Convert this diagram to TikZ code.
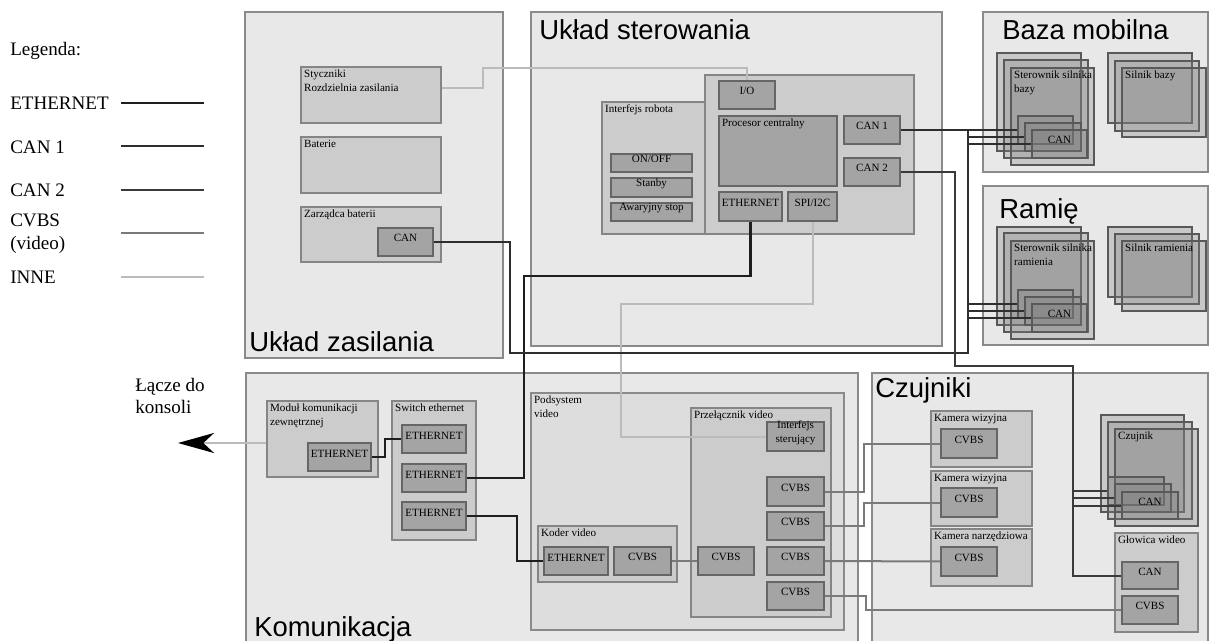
\documentclass[tikz,border=0pt]{standalone}
\usepackage{fontspec}
\setmainfont{Liberation Serif}
\setsansfont{Liberation Sans}
\usetikzlibrary{fit,arrows.meta}
\newcommand\fsmall{\fontsize{8.3}{10.5}\selectfont}
\newcommand\flegend{\fontsize{14.3}{17}\selectfont}
\newcommand\ftitle{\sffamily\fontsize{20.6}{24}\selectfont}
\definecolor{bgA}{HTML}{E8E8E8}
\definecolor{bgB}{HTML}{DDDDDD}
\definecolor{boxC}{HTML}{CCCCCC}
\definecolor{portC}{HTML}{A4A4A4}
\definecolor{edgeA}{HTML}{8A8A8A}
\definecolor{edgeB}{HTML}{666666}
\definecolor{ethC}{HTML}{1E1E1E}
\definecolor{canC}{HTML}{2E2E2E}
\definecolor{canD}{HTML}{3A3A3A}
\definecolor{cvbsC}{HTML}{7A7A7A}
\definecolor{inneC}{HTML}{BBBBBB}
\begin{document}
\begin{tikzpicture}[x=0.75pt,y=-0.75pt,
  outer/.style={draw=edgeA, fill=bgA, line width=1.1pt, inner sep=0pt},
  midbox/.style={draw=edgeA, fill=bgB, line width=1pt, inner sep=0pt},
  sub/.style={draw=edgeB!80, fill=boxC, line width=0.9pt, inner sep=0pt},
  port/.style={draw=edgeB, fill=portC, line width=1pt, inner sep=0pt, font=\fsmall, align=center},
  stk/.style={draw=black!65, fill=black!50, fill opacity=0.3, text opacity=1, line width=0.8pt, inner sep=0pt, font=\fsmall},
  lbl/.style={anchor=north west, inner sep=2.6pt, font=\fsmall, align=left},
  title/.style={anchor=base west, inner sep=0pt, font=\ftitle},
  leg/.style={anchor=base west, inner sep=0pt, font=\flegend},
  eth/.style={draw=ethC, line width=1.7pt},
  can/.style={draw=canC, line width=1.5pt},
  cantwo/.style={draw=canD, line width=1.5pt},
  cvbs/.style={draw=cvbsC, line width=1.5pt},
  inne/.style={draw=inneC, line width=1.5pt}]
\path[use as bounding box, fill=white] (0,0) rectangle (1209,641);
\clip (0,0) rectangle (1209,641);

% ---------------- Legend ----------------
\node[leg] (legT) at (10,56) {Legenda:};
\node[leg] (legEth) at (10,110) {ETHERNET};
\node[leg] (legCan1) at (10,154) {CAN 1};
\node[leg] (legCan2) at (10,197) {CAN 2};
\node[leg] (legCvbs) at (10,227) {CVBS};
\node[leg] (legVid) at (10,250) {(video)};
\node[leg] (legInne) at (10,284) {INNE};
\coordinate (l1a) at (121,103); \coordinate (l1b) at (204,103);
\coordinate (l2a) at (121,146); \coordinate (l2b) at (204,146);
\coordinate (l3a) at (121,190); \coordinate (l3b) at (204,190);
\coordinate (l4a) at (121,233); \coordinate (l4b) at (204,233);
\coordinate (l5a) at (121,277); \coordinate (l5b) at (204,277);
\draw[eth] (l1a) -- (l1b);
\draw[can] (l2a) -- (l2b);
\draw[cantwo] (l3a) -- (l3b);
\draw[cvbs] (l4a) -- (l4b);
\draw[inne] (l5a) -- (l5b);
\node[leg] (lacze1) at (135,391) {Łącze do};
\node[leg] (lacze2) at (135,413) {konsoli};

% ---------------- Układ zasilania ----------------
\node[outer, fit={(245,12)(503,358)}] (zas) {};
\node[title] (zasT) at (249,352) {Układ zasilania};
\node[sub, fit={(301,67)(441,123)}, label={[lbl]north west:{Styczniki\\Rozdzielnia zasilania}}] (sty) {};
\node[sub, fit={(301,137)(441,193)}, label={[lbl]north west:{Baterie}}] (bat) {};
\node[sub, fit={(301,207)(441,262)}, label={[lbl]north west:{Zarządca baterii}}] (zarz) {};
\node[port, fit={(378,228)(433,256)}] (zarzCAN) {CAN};

% ---------------- Układ sterowania ----------------
\node[outer, fit={(531,12)(942,346)}] (ster) {};
\node[title] (sterT) at (539,40) {Układ sterowania};
\node[sub, fit={(705,75)(914,234)}] (procArea) {};
\node[sub, fit={(602,102)(705,234)}, label={[lbl]north west:{Interfejs robota}}] (irob) {};
\node[port, fit={(611,154)(692,172)}] (onoff) {ON/OFF};
\node[port, fit={(611,178)(692,197)}] (stanby) {Stanby};
\node[port, fit={(611,203)(692,221)}] (awar) {Awaryjny stop};
\node[port, fit={(719,81)(775,109)}] (io) {I/O};
\node[port, fit={(719,116)(837,186)}, label={[lbl]north west:{Procesor centralny}}] (cpu) {};
\node[port, fit={(844,116)(900,144)}] (can1) {CAN 1};
\node[port, fit={(844,158)(900,186)}] (can2) {CAN 2};
\node[port, fit={(719,192)(782,221)}] (ctrlEth) {ETHERNET};
\node[port, fit={(788,192)(837,221)}] (spi) {SPI/I2C};

% ---------------- Baza mobilna ----------------
\node[outer, fit={(983,12)(1208,172)}] (baza) {};
\node[title] (bazaT) at (1002,40) {Baza mobilna};
\node[stk, fit={(997,53)(1081,151)}] (bazaSter1) {};
\node[stk, fit={(1004,60)(1088,158)}] (bazaSter2) {};
\node[stk, fit={(1011,68)(1094,165)}, label={[lbl]north west:{Sterownik silnika\\bazy}}] (bazaSter) {};
\node[stk, fit={(1018,116)(1073,144)}] (bazaCANa) {};
\node[stk, fit={(1025,123)(1081,151)}] (bazaCANb) {};
\node[stk, fit={(1032,130)(1087,158)}] (bazaCANc) {CAN};
\node[stk, fit={(1108,53)(1192,123)}] (silB1) {};
\node[stk, fit={(1115,61)(1199,131)}] (silB2) {};
\node[stk, fit={(1122,68)(1206,137)}, label={[lbl]north west:{Silnik bazy}}] (silB) {};

% ---------------- Ramię ----------------
\node[outer, fit={(983,186)(1208,345)}] (ramie) {};
\node[title] (ramieT) at (999,219) {Ramię};
\node[stk, fit={(997,227)(1081,325)}] (ramSter1) {};
\node[stk, fit={(1004,233)(1088,332)}] (ramSter2) {};
\node[stk, fit={(1011,241)(1094,339)}, label={[lbl]north west:{Sterownik silnika\\ramienia}}] (ramSter) {};
\node[stk, fit={(1018,290)(1073,318)}] (ramCANa) {};
\node[stk, fit={(1025,297)(1081,325)}] (ramCANb) {};
\node[stk, fit={(1032,304)(1087,332)}] (ramCANc) {CAN};
\node[stk, fit={(1108,227)(1192,297)}] (silR1) {};
\node[stk, fit={(1115,234)(1199,304)}] (silR2) {};
\node[stk, fit={(1122,241)(1206,311)}, label={[lbl]north west:{Silnik ramienia}}] (silR) {};

% ---------------- Komunikacja ----------------
\node[outer, fit={(246,373)(858,665)}] (kom) {};
\node[title] (komT) at (254,636) {Komunikacja};
\node[sub, fit={(267,401)(378,477)}, label={[lbl]north west:{Moduł komunikacji\\zewnętrznej}}] (mod) {};
\node[port, fit={(308,443)(371,471)}] (modEth) {ETHERNET};
\node[sub, fit={(392,401)(476,540)}, label={[lbl]north west:{Switch ethernet}}] (sw) {};
\node[port, fit={(402,425)(466,453)}] (swEth1) {ETHERNET};
\node[port, fit={(402,464)(466,492)}] (swEth2) {ETHERNET};
\node[port, fit={(402,502)(466,530)}] (swEth3) {ETHERNET};
\node[midbox, fit={(531,393)(844,630)}, label={[lbl]north west:{Podsystem\\video}}] (pvid) {};
\node[sub, fit={(538,526)(677,582)}, label={[lbl]north west:{Koder video}}] (kod) {};
\node[port, fit={(544,547)(608,575)}] (kodEth) {ETHERNET};
\node[port, fit={(614,547)(671,575)}] (kodCVBS) {CVBS};
\node[sub, fit={(691,408)(831,617)}, label={[lbl]north west:{Przełącznik video}}] (prz) {};
\node[port, fit={(767,422)(824,451)}] (intSter) {Interfejs\\sterujący};
\node[port, fit={(698,547)(754,575)}] (inCVBS) {CVBS};
\node[port, fit={(767,477)(824,506)}] (cvA) {CVBS};
\node[port, fit={(767,512)(824,540)}] (cvB) {CVBS};
\node[port, fit={(767,547)(824,575)}] (cvC) {CVBS};
\node[port, fit={(767,582)(824,610)}] (cvD) {CVBS};

% ---------------- Czujniki ----------------
\node[outer, fit={(872,373)(1208,665)}] (czu) {};
\node[title] (czuT) at (875,397) {Czujniki};
\node[sub, fit={(931,411)(1032,467)}, label={[lbl]north west:{Kamera wizyjna}}] (kam1) {};
\node[port, fit={(941,429)(997,458)}] (kam1CVBS) {CVBS};
\node[sub, fit={(931,471)(1032,526)}, label={[lbl]north west:{Kamera wizyjna}}] (kam2) {};
\node[port, fit={(941,488)(997,517)}] (kam2CVBS) {CVBS};
\node[sub, fit={(931,529)(1032,586)}, label={[lbl]north west:{Kamera narzędziowa}}] (kam3) {};
\node[port, fit={(941,547)(997,576)}] (kam3CVBS) {CVBS};
\node[stk, fit={(1101,415)(1184,512)}] (czS1) {};
\node[stk, fit={(1108,422)(1192,519)}] (czS2) {};
\node[stk, fit={(1115,429)(1198,526)}, label={[lbl]north west:{Czujnik}}] (czS) {};
\node[stk, fit={(1108,477)(1164,505)}] (czCANa) {};
\node[stk, fit={(1115,484)(1171,512)}] (czCANb) {};
\node[stk, fit={(1122,492)(1178,519)}] (czCANc) {CAN};
\node[sub, fit={(1115,533)(1198,632)}, label={[lbl]north west:{Głowica wideo}}] (glow) {};
\node[port, fit={(1122,562)(1178,589)}] (glCAN) {CAN};
\node[port, fit={(1122,596)(1178,624)}] (glCVBS) {CVBS};

% ---------------- Connectors: INNE ----------------
\coordinate (i1) at (483,68);
\coordinate (i2) at (621,304);
\coordinate (tip) at (178,443);
\draw[inne] ([yshift=5.25pt]sty.east) -| (i1) -| (io.north);
\draw[inne] (spi.south) |- (i2) |- (intSter.west);
\draw[inne, -{Stealth[length=27pt,width=15pt,inset=8pt,color=black]}] ([yshift=-3pt]mod.west) -- (tip);

% ---------------- Connectors: ETHERNET ----------------
\coordinate (m1) at (385,448);
\coordinate (e2) at (524,276);
\coordinate (e3) at (517,540);
\draw[eth] (modEth.east) -| (m1) |- (swEth1.west);
\draw[eth] (ctrlEth.south) |- (e2) |- (swEth2.east);
\draw[eth] (swEth3.east) -| (e3) |- (kodEth.west);

% ---------------- Connectors: CAN 1 ----------------
\coordinate (b1) at (968,130);
\coordinate (b2) at (968,353);
\coordinate (b3) at (510,353);
\draw[can] (can1.east) -- (bazaCANa.west);
\draw[can] (b1) |- (bazaCANb.west);
\draw[can] (b1) |- (bazaCANc.west);
\draw[can] (b1) |- (ramCANa.west);
\draw[can] (b1) |- (ramCANb.west);
\draw[can] (b1) |- (ramCANc.west);
\draw[can] (b1) -- (b2) -- (b3) |- (zarzCAN.east);

% ---------------- Connectors: CAN 2 ----------------
\coordinate (d1) at (955,366);
\coordinate (d2) at (1073,366);
\draw[cantwo] (can2.east) -| (d1) -- (d2) |- (glCAN.west);
\draw[cantwo] (d2) |- (czCANa.west);
\draw[cantwo] (d2) |- (czCANb.west);
\draw[cantwo] (d2) |- (czCANc.west);

% ---------------- Connectors: CVBS ----------------
\coordinate (v1) at (864,470);
\coordinate (v2) at (864,515);
\coordinate (v4) at (866,603);
\draw[cvbs] (kodCVBS.east) -- (inCVBS.west);
\draw[cvbs] (cvA.east) -| (v1) |- (kam1CVBS.west);
\draw[cvbs] (cvB.east) -| (v2) |- (kam2CVBS.west);
\draw[cvbs] (cvC.east) -- (kam3CVBS.west);
\draw[cvbs] (cvD.east) -| (v4) |- (glCVBS.west);
\end{tikzpicture}
\end{document}
